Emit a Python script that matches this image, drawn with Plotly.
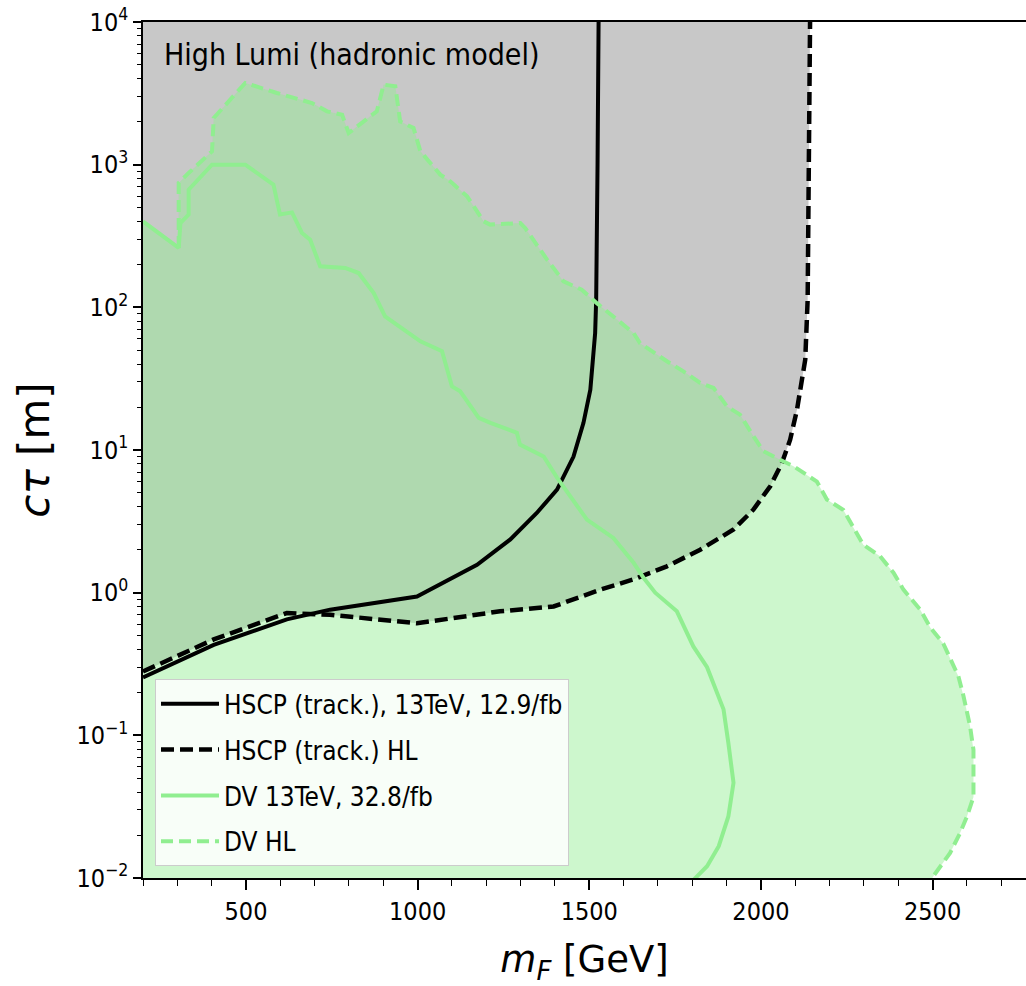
import plotly.graph_objects as go

# ---------------- data ----------------
# HSCP (track.), 13TeV, 12.9/fb  (solid black)
hscp13_m = [200, 406, 619, 745, 998, 1075, 1173, 1270, 1347, 1406, 1454, 1483, 1503, 1517, 1520, 1524, 1527]
hscp13_ct = [0.255, 0.43, 0.65, 0.76, 0.94, 1.17, 1.57, 2.36, 3.62, 5.28, 9.0, 15.5, 26.5, 66, 113, 1000, 10000]

# HSCP (track.) HL  (dashed black, grey excluded region above it)
hscphl_m = [200, 406, 619, 745, 998, 1134, 1240, 1396, 1532, 1629, 1726, 1823, 1920, 1978, 2027, 2061, 2085,
            2105, 2119, 2129, 2136, 2140, 2143]
hscphl_ct = [0.28, 0.47, 0.72, 0.70, 0.61, 0.68, 0.74, 0.80, 1.05, 1.24, 1.53, 2.0, 2.77, 3.82, 5.57, 8.1, 11.8,
             19.2, 31.1, 43, 113, 1000, 10000]

# DV 13TeV, 32.8/fb  (solid light green)
dv13_m = [200, 304, 309, 333, 333, 401, 498, 580, 599, 634, 663, 687, 716, 789, 828, 872, 905, 1008, 1071,
          1100, 1124, 1178, 1212, 1289, 1298, 1367, 1406, 1493, 1570, 1629, 1658, 1692, 1755, 1803, 1843,
          1872, 1891, 1905, 1920, 1905, 1877, 1843, 1813, 1800]
dv13_ct = [400, 261, 390, 447, 668, 1000, 1000, 724, 447, 463, 332, 298, 194, 189, 174, 126, 86.5, 57.8, 49.2,
           27.9, 25.8, 16.8, 15.5, 13.2, 10.9, 9.0, 6.4, 3.25, 2.42, 1.62, 1.27, 1.0, 0.74, 0.42, 0.30,
           0.199, 0.152, 0.0885, 0.0465, 0.027, 0.0167, 0.0121, 0.0103, 0.0095]

# DV HL  (dashed light green, green excluded region)
dvhl_m = [304, 304, 333, 401, 406, 498, 590, 692, 736, 780, 799, 881, 901, 935, 949, 988, 1008, 1066, 1095,
          1144, 1192, 1211, 1299, 1313, 1377, 1425, 1478, 1522, 1629, 1648, 1726, 1774, 1823, 1862, 1901,
          1939, 1978, 2007, 2066, 2095, 2163, 2192, 2240, 2298, 2347, 2386, 2415, 2464, 2493, 2531, 2575,
          2590, 2609, 2619, 2619, 2600, 2580, 2551, 2502, 2495]
dvhl_ct = [261, 745, 875, 1240, 2125, 3740, 3180, 2705, 2365, 2240, 1667, 2365, 3640, 3540, 2010, 1807, 1240,
           851, 764, 600, 401, 380, 390, 360, 216, 152, 133, 107, 66, 56, 41.9, 35.6, 29.5, 27.2, 20.2,
           17.7, 12.5, 9.8, 8.3, 7.7, 6.0, 4.5, 3.8, 2.17, 1.8, 1.38, 1.05, 0.76, 0.57, 0.44, 0.26,
           0.188, 0.116, 0.079, 0.037, 0.027, 0.0207, 0.015, 0.0103, 0.0095]

x_range = [200, 2772]
y_range_exp = [-2, 4]
x_major = [500, 1000, 1500, 2000, 2500]
x_minor = [v for v in range(200, 2800, 100) if v % 500 != 0]
y_major = [1e-2, 1e-1, 1e0, 1e1, 1e2, 1e3, 1e4]
y_major_text = ["10<sup>\u22122</sup>", "10<sup>\u22121</sup>", "10<sup>0</sup>", "10<sup>1</sup>",
                "10<sup>2</sup>", "10<sup>3</sup>", "10<sup>4</sup>"]
y_minor = [k * 10 ** e for e in range(-2, 4) for k in range(2, 10)]

labels = ["HSCP (track.), 13TeV, 12.9/fb", "HSCP (track.) HL", "DV 13TeV, 32.8/fb", "DV HL"]
panel_text = "High Lumi (hadronic model)"

# ---------------- styles ----------------
FONT = "DejaVu Sans Condensed, DejaVu Sans, sans-serif"
GREEN = "#90ee90"
GREEN_FILL = "rgba(144,238,144,0.45)"
GREY_FILL = "#c8c8c8"
y_floor = 10 ** y_range_exp[0] * 0.5
y_ceil = 10 ** y_range_exp[1]

fig = go.Figure()

# grey region: above the HL HSCP curve
grey_x = list(hscphl_m) + [hscphl_m[-1], x_range[0] - 50, x_range[0] - 50]
grey_y = list(hscphl_ct) + [y_ceil * 2, y_ceil * 2, hscphl_ct[0]]
fig.add_trace(go.Scatter(x=grey_x, y=grey_y, mode="lines", line=dict(width=0), fill="toself",
                         fillcolor=GREY_FILL, showlegend=False, hoverinfo="skip"))

# green region: enclosed by DV HL (left piece follows DV 13TeV)
green_x = [x_range[0] - 50, dv13_m[0], dv13_m[1]] + list(dvhl_m) + [dvhl_m[-1], x_range[0] - 50]
green_y = [y_floor, dv13_ct[0], dv13_ct[1]] + list(dvhl_ct) + [y_floor, y_floor]
fig.add_trace(go.Scatter(x=green_x, y=green_y, mode="lines", line=dict(width=0), fill="toself",
                         fillcolor=GREEN_FILL, showlegend=False, hoverinfo="skip"))

fig.add_trace(go.Scatter(x=hscp13_m, y=hscp13_ct, mode="lines", name=labels[0], legendgroup="a",
                         line=dict(color="black", width=4)))
fig.add_trace(go.Scatter(x=hscphl_m, y=hscphl_ct, mode="lines", name=labels[1], legendgroup="b",
                         line=dict(color="black", width=4.5, dash="13px,6px")))
fig.add_trace(go.Scatter(x=dv13_m, y=dv13_ct, mode="lines", name=labels[2], legendgroup="c",
                         line=dict(color=GREEN, width=4)))
fig.add_trace(go.Scatter(x=dvhl_m, y=dvhl_ct, mode="lines", name=labels[3], legendgroup="d",
                         line=dict(color=GREEN, width=4, dash="12px,6px")))

fig.add_annotation(x=0.0215, y=0.9615, xref="paper", yref="paper", xanchor="left", yanchor="middle",
                   text=panel_text, showarrow=False, font=dict(family=FONT, size=30, color="black"))

fig.update_layout(
    width=1026, height=986,
    margin=dict(l=143, r=0, t=22, b=108, autoexpand=False),
    paper_bgcolor="white", plot_bgcolor="white",
    font=dict(family=FONT, color="black"),
    legend=dict(x=0.0136, y=0.232, xanchor="left", yanchor="top",
                bgcolor="rgba(255,255,255,0.85)", bordercolor="#cccccc", borderwidth=1,
                font=dict(family=FONT, size=26, color="black"), tracegroupgap=9, itemwidth=58),
    xaxis=dict(type="linear", range=x_range, showgrid=False, zeroline=False,
               showline=True, linecolor="black", linewidth=1.5, mirror=True,
               ticks="outside", ticklen=10, tickwidth=1.5, tickcolor="black",
               tickmode="array", tickvals=x_major, ticktext=[str(v) for v in x_major],
               tickfont=dict(family=FONT, size=25, color="black"),
               minor=dict(tickmode="array", tickvals=x_minor, ticks="outside", ticklen=6,
                          tickwidth=1.2, tickcolor="black", showgrid=False),
               title=dict(text="<i>m</i><sub><i>F</i></sub> [GeV]", standoff=22,
                          font=dict(family="DejaVu Sans", size=37, color="black"))),
    yaxis=dict(type="log", range=y_range_exp, showgrid=False, zeroline=False,
               showline=True, linecolor="black", linewidth=1.5, mirror=False,
               ticks="outside", ticklen=8, tickwidth=1.5, tickcolor="black",
               tickmode="array", tickvals=y_major, ticktext=y_major_text,
               tickfont=dict(family=FONT, size=25, color="black"),
               minor=dict(tickmode="array", tickvals=y_minor, ticks="outside", ticklen=4.5,
                          tickwidth=1.2, tickcolor="black", showgrid=False),
               title=dict(text="<i>c\u03c4</i> [m]", standoff=14,
                          font=dict(family="DejaVu Sans", size=42, color="black"))),
)

fig.write_html("out.html")
